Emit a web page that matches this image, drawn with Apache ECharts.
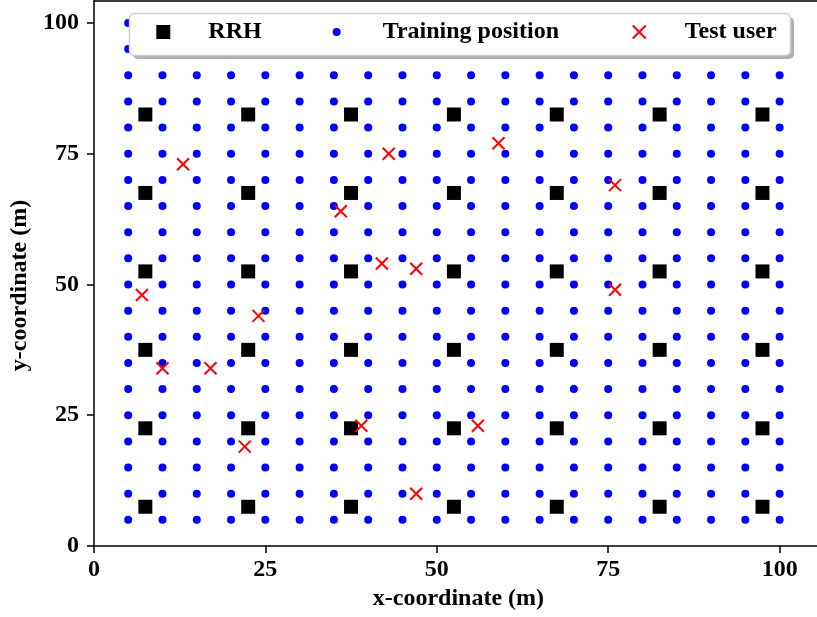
<!DOCTYPE html>
<html>
<head>
<meta charset="utf-8">
<script src="https://cdn.jsdelivr.net/npm/echarts@6/dist/echarts.min.js"></script>
<style>html,body{margin:0;padding:0;background:#fff}#c{width:817px;height:617px}</style>
</head>
<body>
<div id="c"></div>
<script>
// ---- data ----
var trainX = [5,10,15,20,25,30,35,40,45,50,55,60,65,70,75,80,85,90,95,100];
var trainY = [5,10,15,20,25,30,35,40,45,50,55,60,65,70,75,80,85,90,95,100];
var rrhX = [7.5,22.5,37.5,52.5,67.5,82.5,97.5];
var rrhY = [7.5,22.5,37.5,52.5,67.5,82.5];
var testX = [13,59,43,76,36,47,42,76,7,24,10,17,22,39,56,47];
var testY = [73,77,75,69,64,53,54,49,48,44,34,34,19,23,23,10];
var tickVals = [0,25,50,75,100];
var seriesNames = ['RRH','Training position','Test user'];

// ---- build point tables ----
var trainPts = [];
trainX.forEach(function(x){ trainY.forEach(function(y){ trainPts.push([x,y]); }); });
var rrhPts = [];
rrhX.forEach(function(x){ rrhY.forEach(function(y){ rrhPts.push([x,y]); }); });
var testPts = testX.map(function(x,i){ return [x,testY[i]]; });

var FONT = 'Liberation Serif';
var crossPath = 'path://M0,0L10,10M10,0L0,10';
var axisLineStyle = {color:'#000', width:1.5};

var chart = echarts.init(document.getElementById('c'), null, {renderer:'canvas'});
var legendText = {fontFamily:FONT, fontWeight:'bold', fontSize:24, color:'#000'};
function lt(pad){ return Object.assign({padding:[0,0,0,pad]}, legendText); }

chart.setOption({
  animation:false,
  backgroundColor:'#fff',
  grid:{left:91, right:0, top:1, bottom:71, containLabel:false},
  xAxis:[{
    type:'value', min:0, max:105.45, position:'bottom',
    name:'x-coordinate (m)', nameLocation:'middle', nameGap:38,
    nameTextStyle:{fontFamily:FONT, fontWeight:'bold', fontSize:24, color:'#000', padding:[0,0,0,6]},
    axisLine:{show:true, onZero:false, lineStyle:axisLineStyle},
    axisTick:{show:true, inside:false, length:7, lineStyle:axisLineStyle, customValues:tickVals},
    axisLabel:{margin:12, fontFamily:FONT, fontWeight:'bold', fontSize:24, color:'#000', customValues:tickVals},
    splitLine:{show:false}
  },{
    type:'value', min:0, max:105.45, position:'top',
    axisLine:{show:true, onZero:false, lineStyle:axisLineStyle},
    axisTick:{show:false}, axisLabel:{show:false}, splitLine:{show:false}
  }],
  yAxis:[{
    type:'value', min:0, max:104.2, position:'left',
    name:'y-coordinate (m)', nameLocation:'middle', nameGap:60, nameRotate:90,
    nameTextStyle:{fontFamily:FONT, fontWeight:'bold', fontSize:24, color:'#000', padding:[0,24,0,0]},
    axisLine:{show:true, onZero:false, lineStyle:axisLineStyle},
    axisTick:{show:true, inside:false, length:7, lineStyle:axisLineStyle, customValues:tickVals},
    axisLabel:{margin:15, fontFamily:FONT, fontWeight:'bold', fontSize:24, color:'#000', customValues:tickVals},
    splitLine:{show:false}
  }],
  graphic:[
    {type:'rect', z:100, silent:true, shape:{x:133, y:17, width:661, height:42, r:5}, style:{fill:'#b0b0b0'}},
    {type:'rect', z:101, silent:true, shape:{x:129.5, y:13.5, width:661, height:42, r:5}, style:{fill:'#fff', stroke:'#cfcfcf', lineWidth:1.5}}
  ],
  legend:[
    {data:[seriesNames[0]], left:156.3, top:20, padding:0, z:200, itemWidth:14, itemHeight:14, icon:'rect',
     itemStyle:{color:'#000', borderWidth:0, opacity:1}, textStyle:lt(33)},
    {data:[seriesNames[1]], left:332.7, top:20, padding:0, z:200, itemWidth:8, itemHeight:8, icon:'circle',
     itemStyle:{color:'#0000ff', borderWidth:0, opacity:1}, textStyle:lt(37)},
    {data:[seriesNames[2]], left:631.8, top:20, padding:0, z:200, itemWidth:13, itemHeight:13, icon:crossPath,
     itemStyle:{color:'rgba(0,0,0,0)', borderColor:'#ff0000', borderWidth:2, opacity:1}, textStyle:lt(34)}
  ],
  series:[
    {name:seriesNames[1], type:'scatter', data:trainPts, symbol:'circle', symbolSize:8,
     itemStyle:{color:'#0000ff', opacity:1}, silent:true, emphasis:{disabled:true}, z:2},
    {name:seriesNames[0], type:'scatter', data:rrhPts, symbol:'rect', symbolSize:14,
     itemStyle:{color:'#000', opacity:1}, silent:true, emphasis:{disabled:true}, z:3},
    {name:seriesNames[2], type:'scatter', data:testPts, symbol:crossPath, symbolSize:12,
     itemStyle:{color:'rgba(0,0,0,0)', borderColor:'#ff0000', borderWidth:2, opacity:1}, silent:true, emphasis:{disabled:true}, z:4}
  ]
});
</script>
</body>
</html>
